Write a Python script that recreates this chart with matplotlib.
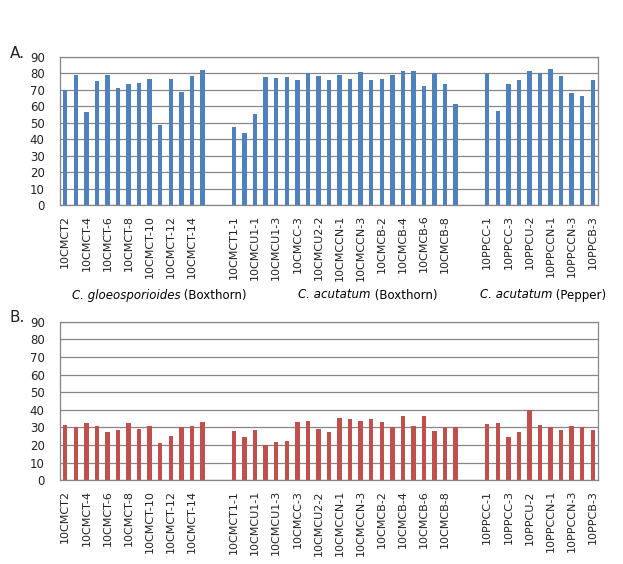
import numpy as np
import matplotlib
matplotlib.use("Agg")
import matplotlib.pyplot as plt
import matplotlib.transforms as mtransforms

# -------------------------------------------------------------
# 1. DATA
# -------------------------------------------------------------
nomes_gloeo = ["10CMCT2", "10CMCT-3", "10CMCT-4", "10CMCT-5", "10CMCT-6", "10CMCT-7",
               "10CMCT-8", "10CMCT-9", "10CMCT-10", "10CMCT-11", "10CMCT-12", "10CMCT-13",
               "10CMCT-14", "10CMCT-15"]
nomes_acu_box = ["10CMCT1-1", "10CMCT1-2", "10CMCU1-1", "10CMCU1-2", "10CMCU1-3", "10CMCC-2",
                 "10CMCC-3", "10CMCU2-1", "10CMCU2-2", "10CMCU2-3", "10CMCCN-1", "10CMCCN-2",
                 "10CMCCN-3", "10CMCB-1", "10CMCB-2", "10CMCB-3", "10CMCB-4", "10CMCB-5",
                 "10CMCB-6", "10CMCB-7", "10CMCB-8", "10CMCB-9"]
nomes_acu_pep = ["10PPCC-1", "10PPCC-2", "10PPCC-3", "10PPCU-1", "10PPCU-2", "10PPCU-3",
                 "10PPCCN-1", "10PPCCN-2", "10PPCCN-3", "10PPCB-2", "10PPCB-3"]

# Chart A
a_gloeo = [70.1, 79.3, 56.7, 75.2, 79.3, 71.3, 73.8, 74.4, 76.8, 48.4, 76.8, 68.9, 78.7, 82.3]
a_acu_box = [47.2, 43.9, 55.5, 78.0, 77.4, 78.0, 75.8, 80.0, 78.7, 76.2, 79.3, 76.8,
             81.1, 75.8, 76.8, 79.3, 81.7, 81.7, 72.6, 80.5, 73.8, 61.6]
a_acu_pep = [80.3, 57.3, 73.8, 76.2, 81.7, 80.3, 82.9, 78.7, 68.3, 66.5, 76.2]

# Chart B
b_gloeo = [31.4, 30.1, 32.5, 30.8, 27.4, 28.5, 32.5, 29.1, 30.8, 21.2, 25.1, 30.1, 30.8, 33.1]
b_acu_box = [28.0, 24.6, 28.5, 20.0, 21.7, 22.3, 33.1, 33.6, 29.1, 27.4, 35.3, 34.8,
             33.6, 34.8, 33.1, 30.2, 36.5, 30.8, 36.5, 28.0, 30.2, 30.2]
b_acu_pep = [31.9, 32.5, 24.6, 27.4, 40.1, 31.4, 30.1, 28.5, 30.8, 30.1, 28.5]

# group labels: (italic species, host)
especies = ["C. gloeosporioides", "C. acutatum", "C. acutatum"]
hospedeiros = [" (Boxthorn)", " (Boxthorn)", " (Pepper)"]

# -------------------------------------------------------------
# 2. POSITIONS (two empty slots between groups)
# -------------------------------------------------------------
GAP = 2
nomes_grupos = [nomes_gloeo, nomes_acu_box, nomes_acu_pep]
posicoes = []
inicio = 0
for nomes in nomes_grupos:
    posicoes.append(np.arange(inicio, inicio + len(nomes)))
    inicio += len(nomes) + GAP
n_slots = inicio - GAP

AZUL = "#4F81BD"
VERMELHO = "#C0504D"
GRADE = "#868686"

fig = plt.figure(figsize=(6.23, 5.64), dpi=100)
fig.patch.set_facecolor("white")

ax1 = fig.add_axes([0.0963, 0.6365, 0.8636, 0.2624])
ax2 = fig.add_axes([0.0963, 0.1484, 0.8636, 0.2812])


def desenha(ax, series, cor):
    for pos, vals in zip(posicoes, series):
        ax.bar(pos, vals, width=0.42, color=cor, zorder=3)
    ax.set_xlim(-0.5, n_slots - 0.5)
    ax.set_ylim(0, 90)
    ax.set_yticks(range(0, 91, 10))
    ax.yaxis.grid(True, color=GRADE, linewidth=0.9, zorder=0)
    ticks, labels = [], []
    for pos, nomes in zip(posicoes, nomes_grupos):
        ticks.extend(pos[::2])
        labels.extend(nomes[::2])
    ax.set_xticks(ticks)
    ax.set_xticklabels(labels, rotation=90, fontsize=8, color="#222222")
    ax.tick_params(axis="x", length=0, pad=7)
    ax.tick_params(axis="y", length=0, pad=11, labelsize=8.5, labelcolor="#222222")
    for spine in ax.spines.values():
        spine.set_edgecolor(GRADE)
        spine.set_linewidth(0.9)


desenha(ax1, [a_gloeo, a_acu_box, a_acu_pep], AZUL)
desenha(ax2, [b_gloeo, b_acu_box, b_acu_pep], VERMELHO)

# Group labels under chart A (italic species + upright host)
trans = mtransforms.blended_transform_factory(ax1.transData, fig.transFigure)
for xl, esp, hosp in zip([0.6, 22.1, 39.3], especies, hospedeiros):
    t = ax1.text(xl, 1 - 295 / 564, esp, transform=trans, ha="left", va="center",
                 fontsize=8.5, style="italic", color="black")
    ax1.annotate(hosp, xy=(1, 0.5), xycoords=t, ha="left", va="center",
                 fontsize=8.5, color="black")

fig.text(10 / 623, 1 - 53 / 564, "A.", fontsize=11, va="center", ha="left", color="#222222")
fig.text(10 / 623, 1 - 317 / 564, "B.", fontsize=11, va="center", ha="left", color="#222222")

plt.savefig("out.png", dpi=100, facecolor="white")
